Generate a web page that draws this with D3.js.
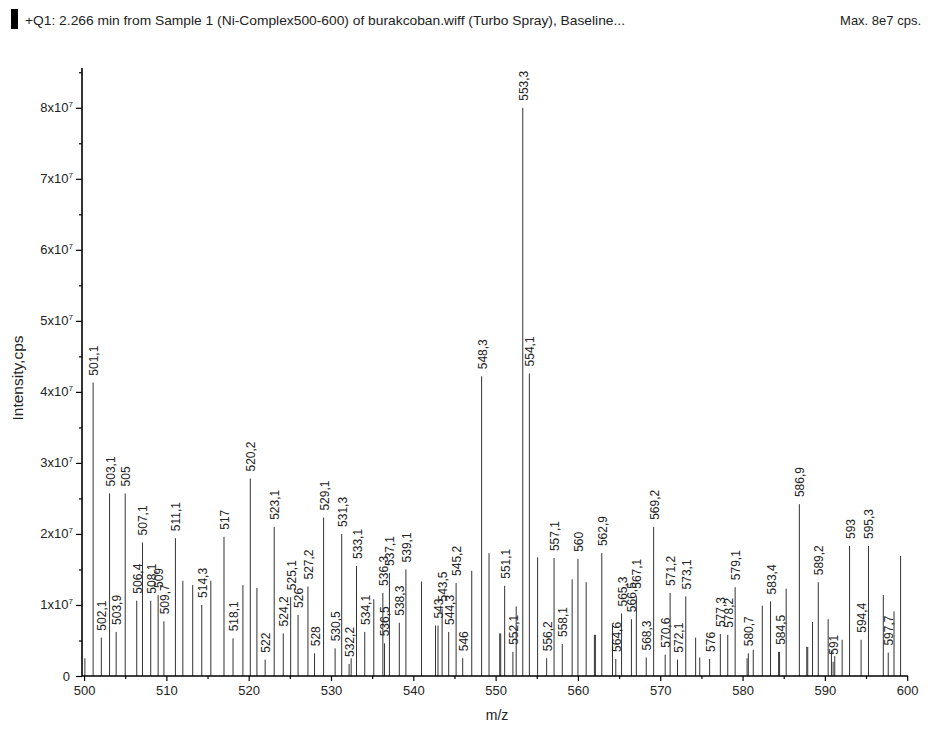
<!DOCTYPE html>
<html>
<head>
<meta charset="utf-8">
<script src="https://cdn.jsdelivr.net/npm/d3@7"></script>
<style>
    body { margin: 0; background: #fff; }
    svg { font-family: "Liberation Sans", Arial, sans-serif; }
</style>
</head>
<body>
<div id="chart"></div>
<script>
// peaks: m/z, intensity (cps), label ('' = none)
const peakMz = [
    500.1, 501.1, 502.1, 503.1, 503.9, 505.0, 506.4, 507.1, 508.1, 509.0,
    509.7, 511.1, 512.0, 513.2, 514.3, 515.4, 517.0, 518.1, 519.3, 520.2,
    521.0, 522.0, 523.1, 524.2, 525.1, 526.0, 527.2, 528.0, 529.1, 530.5,
    531.3, 532.2, 532.45, 533.1, 534.1, 535.2, 536.3, 536.5, 537.1, 538.3,
    539.1, 541.0, 542.7, 543.0, 543.5, 544.3, 545.2, 546.0, 547.1, 548.3,
    549.2, 550.5, 550.62, 551.1, 552.1, 552.5, 553.3, 554.1, 555.1, 556.2,
    557.1, 558.1, 559.3, 560.0, 561.0, 562.0, 562.12, 562.9, 564.2, 564.6,
    565.3, 566.5, 567.1, 568.3, 569.2, 570.6, 571.2, 572.1, 573.1, 574.3,
    574.8, 576.0, 577.3, 578.2, 579.1, 580.55, 580.7, 581.3, 582.4, 583.4,
    584.38, 584.5, 585.3, 586.9, 587.8, 587.92, 588.5, 589.2, 590.4, 590.8,
    591.0, 591.2, 592.1, 593.0, 594.4, 595.3, 597.1, 597.7, 598.4, 599.2
];
const peakIntensity = [
    0.25e7, 4.13e7, 0.54e7, 2.57e7, 0.62e7, 2.57e7, 1.06e7, 1.88e7, 1.06e7, 1.14e7,
    0.77e7, 1.94e7, 1.34e7, 1.28e7, 1.0e7, 1.34e7, 1.96e7, 0.53e7, 1.28e7, 2.78e7,
    1.24e7, 0.23e7, 2.10e7, 0.60e7, 1.11e7, 0.86e7, 1.26e7, 0.32e7, 2.23e7, 0.39e7,
    2.0e7, 0.17e7, 0.25e7, 1.55e7, 0.62e7, 1.08e7, 1.17e7, 0.46e7, 1.45e7, 0.75e7,
    1.50e7, 1.33e7, 0.71e7, 0.71e7, 0.95e7, 0.62e7, 1.31e7, 0.25e7, 1.48e7, 4.22e7,
    1.73e7, 0.60e7, 0.60e7, 1.27e7, 0.34e7, 0.98e7, 8.0e7, 4.26e7, 1.67e7, 0.25e7,
    1.66e7, 0.45e7, 1.36e7, 1.65e7, 1.32e7, 0.58e7, 0.58e7, 1.73e7, 0.72e7, 0.24e7,
    0.88e7, 0.80e7, 1.13e7, 0.26e7, 2.10e7, 0.30e7, 1.17e7, 0.23e7, 1.12e7, 0.54e7,
    0.26e7, 0.24e7, 0.59e7, 0.58e7, 1.25e7, 0.25e7, 0.32e7, 0.37e7, 0.99e7, 1.05e7,
    0.34e7, 0.34e7, 1.23e7, 2.42e7, 0.41e7, 0.41e7, 0.76e7, 1.32e7, 0.80e7, 0.36e7,
    0.20e7, 0.28e7, 0.51e7, 1.83e7, 0.51e7, 1.83e7, 1.14e7, 0.33e7, 0.91e7, 1.69e7
];
const peakLabel = [
    '', '501,1', '502,1', '503,1', '503,9', '505', '506,4', '507,1', '508,1', '509',
    '509,7', '511,1', '', '', '514,3', '', '517', '518,1', '', '520,2',
    '', '522', '523,1', '524,2', '525,1', '526', '527,2', '528', '529,1', '530,5',
    '531,3', '532,2', '', '533,1', '534,1', '', '536,3', '536,5', '537,1', '538,3',
    '539,1', '', '', '543', '543,5', '544,3', '545,2', '546', '', '548,3',
    '', '', '', '551,1', '552,1', '', '553,3', '554,1', '', '556,2',
    '557,1', '558,1', '', '560', '', '', '', '562,9', '', '564,6',
    '565,3', '566,5', '567,1', '568,3', '569,2', '570,6', '571,2', '572,1', '573,1', '',
    '', '576', '577,3', '578,2', '579,1', '', '580,7', '', '', '583,4',
    '', '584,5', '', '586,9', '', '', '', '589,2', '', '',
    '591', '', '', '593', '594,4', '595,3', '', '597,7', '', ''
];

const xTicks = [500, 510, 520, 530, 540, 550, 560, 570, 580, 590, 600];
const yTicks = [0, 1e7, 2e7, 3e7, 4e7, 5e7, 6e7, 7e7, 8e7];

const titleText = '+Q1: 2.266 min from Sample 1 (Ni-Complex500-600) of burakcoban.wiff (Turbo Spray), Baseline...';
const maxText = 'Max. 8e7 cps.';

const peaks = peakMz.map((mz, i) => ({ mz, value: peakIntensity[i], label: peakLabel[i] }));

const width = 932;
const height = 729;

const svg = d3.select('#chart')
    .append('svg')
    .attr('width', width)
    .attr('height', height);

const xScale = d3.scaleLinear().domain([499.75, 600.1]).range([82, 908]);
const yScale = d3.scaleLinear().domain([0, 8.56e7]).range([676, 68]);

// header
svg.append('rect')
    .attr('x', 11).attr('y', 9)
    .attr('width', 7).attr('height', 20)
    .attr('fill', '#000');
svg.append('text')
    .attr('x', 25).attr('y', 25)
    .attr('font-size', 13)
    .attr('fill', '#222')
    .attr('textLength', 600)
    .attr('lengthAdjust', 'spacingAndGlyphs')
    .text(titleText);
svg.append('text')
    .attr('x', 921).attr('y', 25)
    .attr('font-size', 13)
    .attr('fill', '#222')
    .attr('text-anchor', 'end')
    .text(maxText);

// sticks
svg.append('g')
    .attr('class', 'sticks')
    .selectAll('line')
    .data(peaks)
    .join('line')
    .attr('x1', d => xScale(d.mz))
    .attr('x2', d => xScale(d.mz))
    .attr('y1', yScale(0))
    .attr('y2', d => yScale(d.value))
    .attr('stroke', '#333')
    .attr('stroke-width', 1);

// peak labels, rotated, sitting just above each stick
svg.append('g')
    .attr('class', 'labels')
    .selectAll('text')
    .data(peaks.filter(d => d.label))
    .join('text')
    .attr('transform', d => `translate(${xScale(d.mz) + 5}, ${yScale(d.value) - 7}) rotate(-90)`)
    .attr('font-size', 12)
    .attr('fill', '#222')
    .text(d => d.label);

// axes
const xAxis = svg.append('g')
    .attr('transform', `translate(0, ${yScale(0)})`)
    .call(d3.axisBottom(xScale).tickValues(xTicks).tickSize(5).tickFormat(d3.format('d')));
svg.append('g')
    .attr('transform', `translate(0, ${yScale(0)})`)
    .call(d3.axisBottom(xScale).tickValues(d3.range(505, 600, 10)).tickSize(3).tickFormat(''))
    .select('.domain').remove();

const yAxis = svg.append('g')
    .attr('transform', `translate(82, 0)`)
    .call(d3.axisLeft(yScale).tickValues(yTicks).tickSize(6).tickFormat(''));
svg.append('g')
    .attr('transform', `translate(82, 0)`)
    .call(d3.axisLeft(yScale).tickValues(d3.range(0.5e7, 8.6e7, 1e7)).tickSize(3).tickFormat(''))
    .select('.domain').remove();

svg.selectAll('.domain').attr('stroke-width', 1.6);
xAxis.select('.domain').attr('d', `M82,0H${xScale.range()[1]}`);
yAxis.select('.domain').attr('d', `M0,${yScale(0)}V${yScale.range()[1]}`);
svg.selectAll('.tick line').attr('stroke-width', 1.2);

xAxis.selectAll('.tick text')
    .attr('font-size', 13)
    .attr('font-family', '"Liberation Sans", Arial, sans-serif')
    .attr('y', 10)
    .attr('fill', '#222');

// y tick labels like 8x10^7
const yLab = svg.append('g').attr('class', 'ylabels');
yTicks.forEach(v => {
    const t = yLab.append('text')
        .attr('x', 73)
        .attr('y', yScale(v) + 4.5)
        .attr('text-anchor', 'end')
        .attr('font-size', 13)
        .attr('fill', '#222');
    if (v === 0) {
        t.attr('x', 70).text('0');
    } else {
        t.append('tspan').text(`${v / 1e7}x10`);
        t.append('tspan').attr('dy', -5).attr('font-size', 8).text('7');
    }
});

// axis titles
svg.append('text')
    .attr('transform', `translate(23, 378) rotate(-90)`)
    .attr('text-anchor', 'middle')
    .attr('font-size', 15.5)
    .attr('fill', '#222')
    .text('Intensity,cps');
svg.append('text')
    .attr('x', 497).attr('y', 720)
    .attr('text-anchor', 'middle')
    .attr('font-size', 14)
    .attr('fill', '#222')
    .text('m/z');
</script>
</body>
</html>
